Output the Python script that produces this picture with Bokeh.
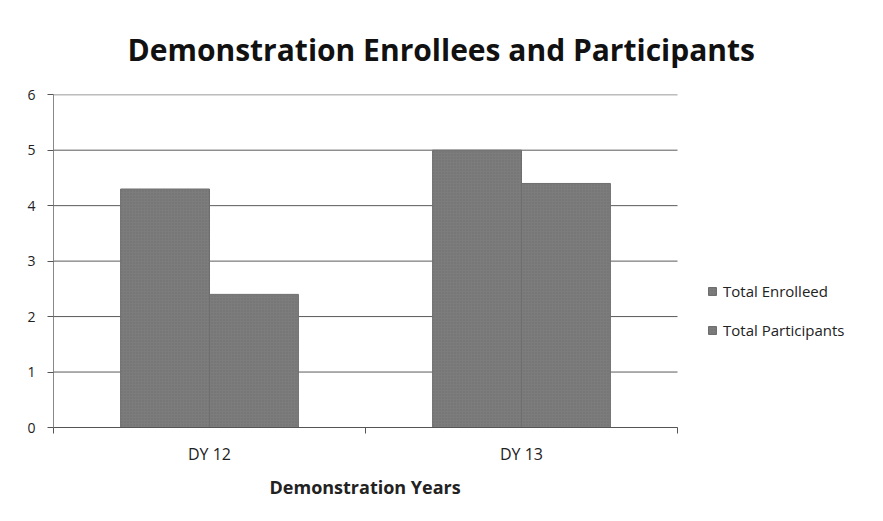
from bokeh.plotting import figure
from bokeh.models import Range1d, Legend, LegendItem, ColumnDataSource, FixedTicker, Title
from bokeh.embed import file_html
from bokeh.resources import INLINE

categories = ["DY 12", "DY 13"]
series_names = ["Total Enrolleed", "Total Participants"]
total_enrolled = [4.3, 5.0]
total_participants = [2.4, 4.4]
y_ticks = [0, 1, 2, 3, 4, 5, 6]

title_text = "Demonstration Enrollees and Participants"
x_title = "Demonstration Years"

n = len(categories)
centers = [i + 0.5 for i in range(n)]
bar_w = 0.285
src = ColumnDataSource(dict(
    xe=[c - bar_w / 2 for c in centers], xp=[c + bar_w / 2 for c in centers],
    enr=total_enrolled, par=total_participants))

W, H = 875, 513
left, top, bottom = 53, 94, 86
frame_w = W - left
cat_px = 312.0  # pixel width of each category slot
p = figure(width=W, height=H, output_backend="svg", toolbar_location=None,
           x_range=Range1d(0, frame_w / cat_px), y_range=Range1d(0, 6.004),
           min_border_left=left, min_border_right=0, min_border_top=top, min_border_bottom=bottom)

p.title.text = title_text
p.title.align = "left"
p.title.text_font = "Open Sans"
p.title.text_font_style = "bold"
p.title.text_font_size = "30px"
p.title.text_color = "#111111"
p.title.standoff = 49
p.title.offset = 74

# horizontal grid lines, only across the category area
p.segment(x0=[0] * len(y_ticks), x1=[n] * len(y_ticks), y0=y_ticks, y1=y_ticks,
          line_color="#5a5a5a", line_width=1, level="underlay")

fill = "#7c7c7c"
r1 = p.vbar(x="xe", top="enr", width=bar_w, source=src,
            fill_color=fill, line_color="#6e6e6e", line_width=1,
            hatch_pattern="dot", hatch_color="#5c5c5c", hatch_scale=3, hatch_alpha=0.35)
r2 = p.vbar(x="xp", top="par", width=bar_w, source=src,
            fill_color=fill, line_color="#6e6e6e", line_width=1,
            hatch_pattern="dot", hatch_color="#5c5c5c", hatch_scale=3, hatch_alpha=0.35)

p.outline_line_color = None
p.xgrid.grid_line_color = None
p.ygrid.grid_line_color = None

p.yaxis.ticker = FixedTicker(ticks=y_ticks)
p.yaxis.minor_tick_line_color = None
p.yaxis.axis_line_color = "#888888"
p.yaxis.major_tick_line_color = "#555555"
p.yaxis.major_tick_out = 6
p.yaxis.major_tick_in = 0
p.yaxis.major_label_standoff = 12
p.yaxis.major_label_text_font = "Open Sans"
p.yaxis.major_label_text_font_size = "14px"
p.yaxis.major_label_text_color = "#222222"

p.xaxis.ticker = FixedTicker(ticks=centers, minor_ticks=list(range(n + 1)))
p.xaxis.major_label_overrides = {c: lab for c, lab in zip(centers, categories)}
p.xaxis.bounds = (0, n)
p.xaxis.axis_line_color = "#555555"
p.xaxis.major_tick_line_color = None
p.xaxis.major_tick_out = 6
p.xaxis.minor_tick_line_color = "#555555"
p.xaxis.minor_tick_out = 6
p.xaxis.minor_tick_in = 0
p.xaxis.major_label_standoff = 9
p.xaxis.major_label_text_font = "Open Sans"
p.xaxis.major_label_text_font_size = "16px"
p.xaxis.major_label_text_color = "#222222"

xt = Title(text=x_title, align="left", offset=216, standoff=10,
           text_font="Open Sans", text_font_style="bold", text_font_size="18px",
           text_color="#222222")
p.add_layout(xt, "below")

legend = Legend(items=[LegendItem(label=series_names[0], renderers=[r1]),
                       LegendItem(label=series_names[1], renderers=[r2])],
                location=(654, 87), orientation="vertical",
                border_line_color=None, background_fill_alpha=0,
                label_text_font="Open Sans", label_text_font_size="15px",
                label_text_color="#222222",
                glyph_width=10, glyph_height=10, label_height=20, spacing=19,
                label_standoff=6, padding=0, margin=0)
p.add_layout(legend, "center")

open("out.html", "w").write(file_html(p, INLINE))
